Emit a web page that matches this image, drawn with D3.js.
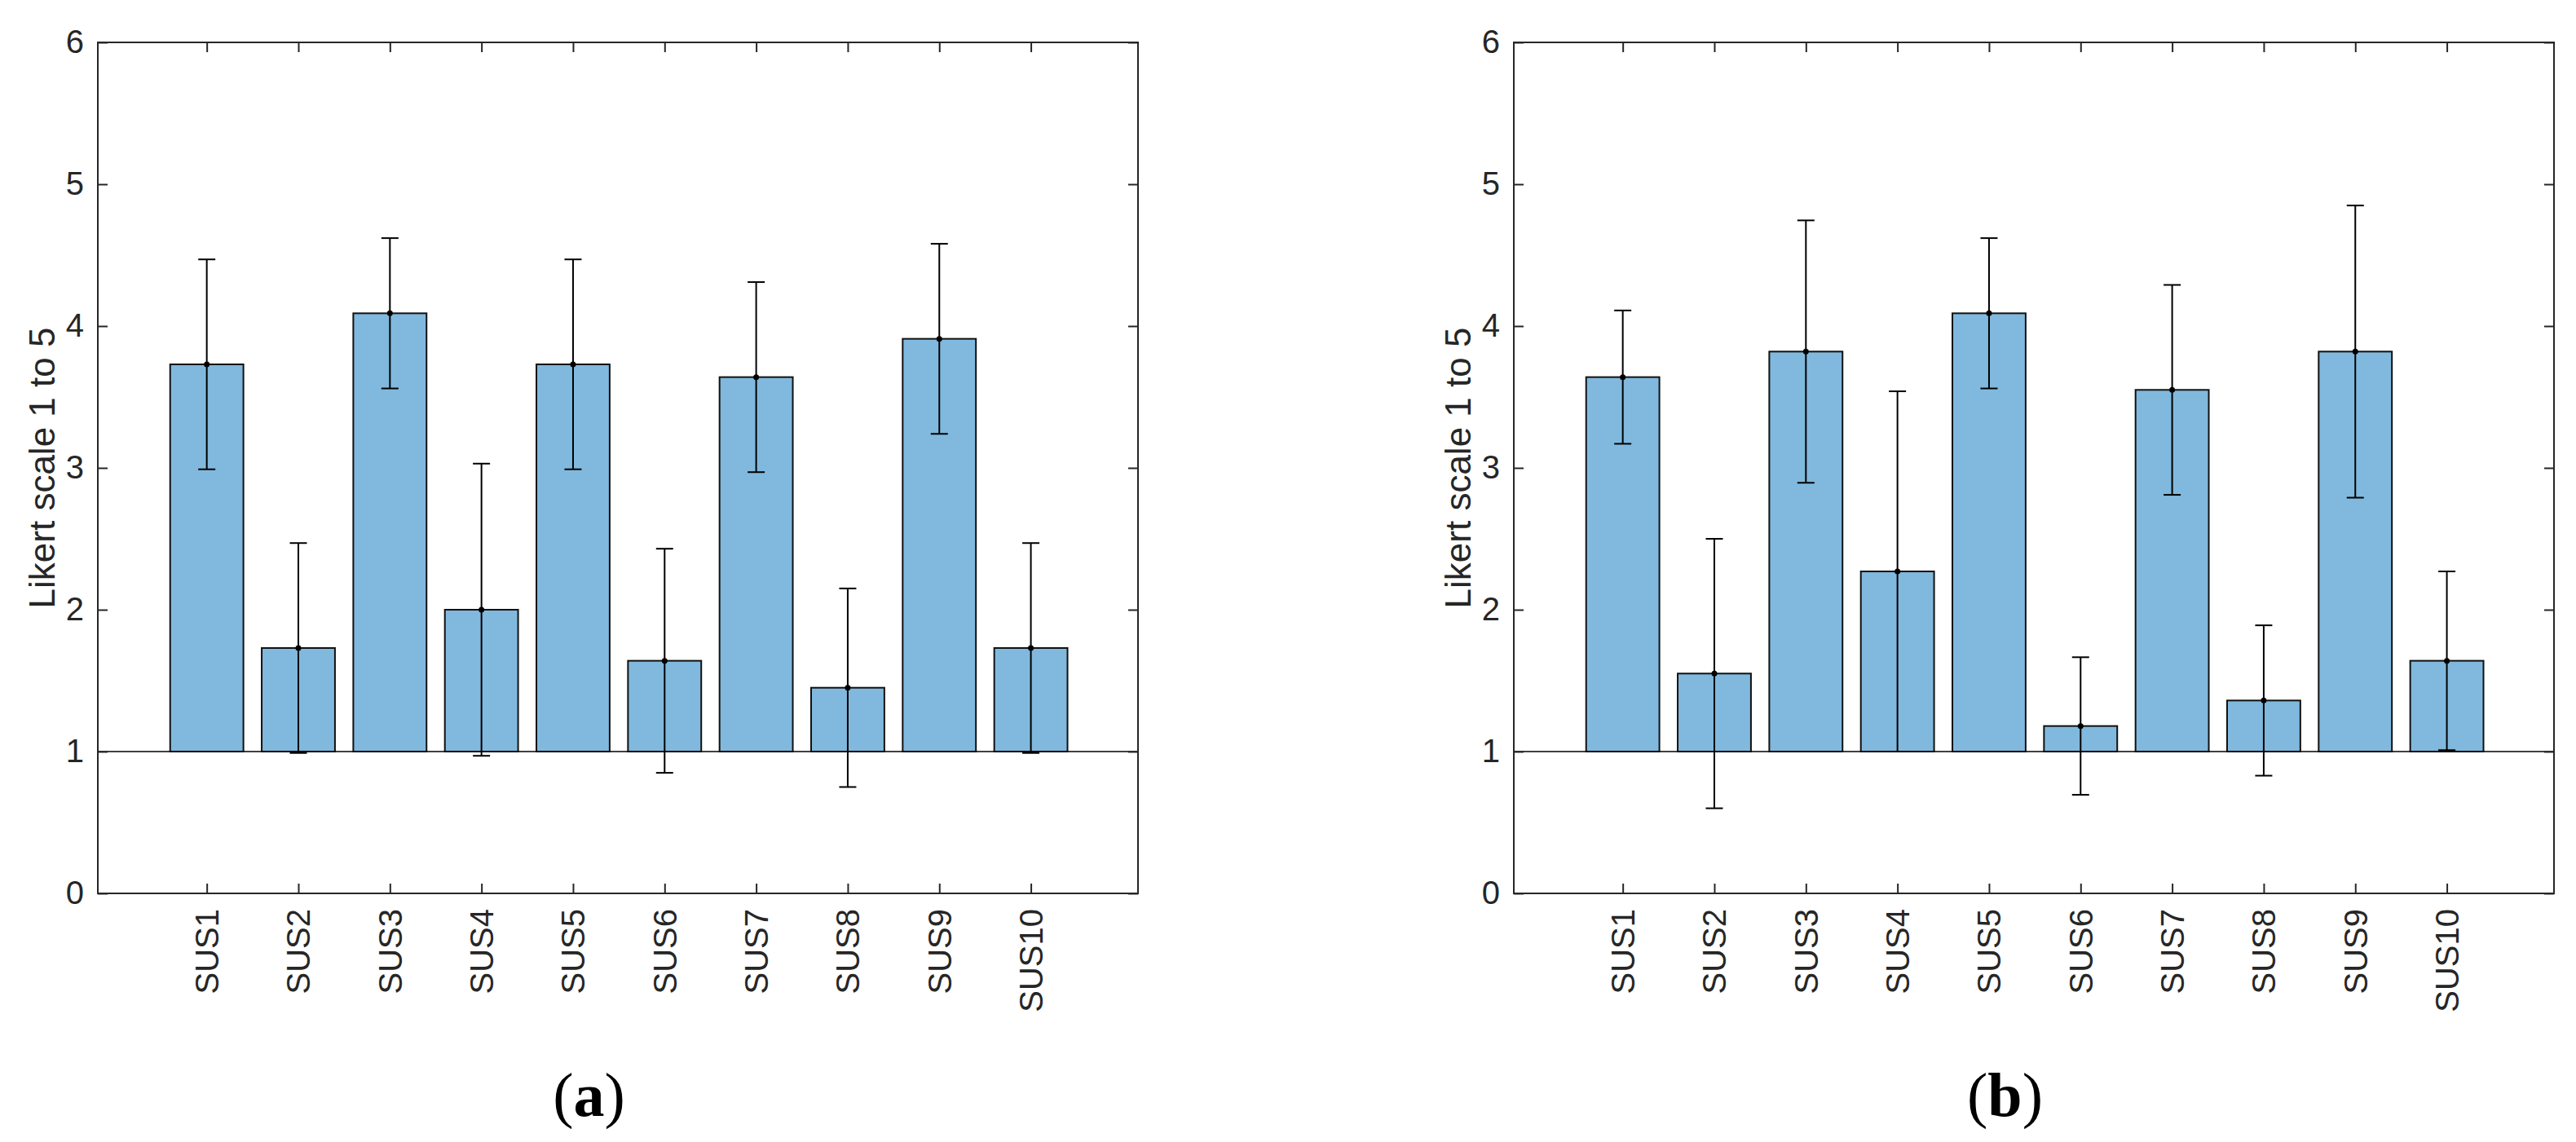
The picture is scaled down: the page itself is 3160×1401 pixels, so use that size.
<!DOCTYPE html>
<html>
<head>
<meta charset="utf-8">
<script src="https://cdn.jsdelivr.net/npm/d3@7"></script>
<style>
  body { margin: 0; background: #fff; }
  svg { display: block; }
</style>
</head>
<body>
<svg id="chart" width="3160" height="1401"></svg>
<script>
// questionnaire items
const items = ["SUS1", "SUS2", "SUS3", "SUS4", "SUS5", "SUS6", "SUS7", "SUS8", "SUS9", "SUS10"];

// panel (a): mean and std per item
const meansA = [3.73, 1.73, 4.09, 2.00, 3.73, 1.64, 3.64, 1.45, 3.91, 1.73];
const stdA   = [0.74, 0.74, 0.53, 1.03, 0.74, 0.79, 0.67, 0.70, 0.67, 0.74];

// panel (b)
const meansB = [3.64, 1.55, 3.82, 2.27, 4.09, 1.18, 3.55, 1.36, 3.82, 1.64];
const stdB   = [0.47, 0.95, 0.925, 1.27, 0.53, 0.485, 0.74, 0.53, 1.03, 0.63];

const yTicks = [0, 1, 2, 3, 4, 5, 6];
const yLabel = "Likert scale 1 to 5";
const captions = ["a", "b"];

const svg = d3.select("#chart");
const axisColor = "#262626";

function drawPanel(left, means, stds, letter) {
    const w = 1276, h = 1044, top = 52;
    const g = svg.append("g").attr("transform", `translate(${left},${top})`);

    const x = d3.scaleLinear().domain([-0.19, 11.17]).range([0, w]);
    const y = d3.scaleLinear().domain([0, 6]).range([h, 0]);
    const barW = x(0.8) - x(0);
    const capW = 21;

    const data = items.map((name, i) => ({name, pos: i + 1, mean: means[i], sd: stds[i]}));

    // bars sitting on the baseline at 1
    g.selectAll("rect.bar")
        .data(data)
        .join("rect")
        .attr("class", "bar")
        .attr("x", d => x(d.pos) - barW / 2)
        .attr("width", barW)
        .attr("y", d => y(d.mean))
        .attr("height", d => y(1) - y(d.mean))
        .attr("fill", "#80b9dd")
        .attr("stroke", "#111")
        .attr("stroke-width", 2);

    // baseline
    g.append("line")
        .attr("x1", 0).attr("x2", w)
        .attr("y1", y(1)).attr("y2", y(1))
        .attr("stroke", "#000")
        .attr("stroke-width", 1.6);

    // error bars
    const eb = g.selectAll("g.err").data(data).join("g").attr("class", "err")
        .attr("stroke", "#000").attr("stroke-width", 2);
    eb.append("line")
        .attr("x1", d => x(d.pos)).attr("x2", d => x(d.pos))
        .attr("y1", d => y(d.mean - d.sd)).attr("y2", d => y(d.mean + d.sd));
    eb.append("line")
        .attr("x1", d => x(d.pos) - capW / 2).attr("x2", d => x(d.pos) + capW / 2)
        .attr("y1", d => y(d.mean + d.sd)).attr("y2", d => y(d.mean + d.sd));
    eb.append("line")
        .attr("x1", d => x(d.pos) - capW / 2).attr("x2", d => x(d.pos) + capW / 2)
        .attr("y1", d => y(d.mean - d.sd)).attr("y2", d => y(d.mean - d.sd));
    eb.append("circle")
        .attr("cx", d => x(d.pos)).attr("cy", d => y(d.mean))
        .attr("r", 3.5).attr("fill", "#000").attr("stroke", "none");

    // axes (ticks inside like matlab)
    const yAxis = g.append("g")
        .call(d3.axisLeft(y).tickValues(yTicks).tickFormat(d3.format("d")).tickSize(-12).tickSizeOuter(0).tickPadding(17));
    const xAxis = g.append("g")
        .attr("transform", `translate(0,${h})`)
        .call(d3.axisBottom(x).tickValues(data.map(d => d.pos)).tickFormat(p => items[p - 1]).tickSize(-12).tickSizeOuter(0));
    xAxis.selectAll("text")
        .attr("y", 0)
        .attr("x", -19)
        .attr("dy", "0.35em")
        .attr("transform", "rotate(-90)")
        .style("text-anchor", "end");
    g.append("g")
        .call(d3.axisTop(x).tickValues(data.map(d => d.pos)).tickFormat("").tickSize(-12).tickSizeOuter(0));
    g.append("g")
        .attr("transform", `translate(${w},0)`)
        .call(d3.axisRight(y).tickValues(yTicks).tickFormat("").tickSize(-12).tickSizeOuter(0));

    g.selectAll(".domain").remove();
    g.selectAll(".tick line").attr("stroke", axisColor).attr("stroke-width", 2);
    g.selectAll(".tick text")
        .attr("fill", axisColor)
        .style("font-family", "'Liberation Sans', Arial, sans-serif")
        .style("font-size", "40px");

    g.append("rect")
        .attr("width", w).attr("height", h)
        .attr("fill", "none")
        .attr("stroke", axisColor)
        .attr("stroke-width", 2);

    g.append("text")
        .attr("transform", `translate(-68,${h / 2}) rotate(-90)`)
        .attr("text-anchor", "middle")
        .attr("dy", "0.35em")
        .attr("fill", axisColor)
        .style("font-family", "'Liberation Sans', Arial, sans-serif")
        .style("font-size", "44px")
        .text(yLabel);

    const cap = svg.append("text")
        .attr("x", left + 602.5)
        .attr("y", 1369)
        .attr("text-anchor", "middle")
        .style("font-family", "'Liberation Serif', 'Times New Roman', serif")
        .style("font-size", "76px")
        .attr("fill", "#000");
    cap.append("tspan").text("(");
    cap.append("tspan").attr("font-weight", "bold").text(letter);
    cap.append("tspan").text(")");
}

drawPanel(120, meansA, stdA, captions[0]);
drawPanel(1857, meansB, stdB, captions[1]);
</script>
</body>
</html>
